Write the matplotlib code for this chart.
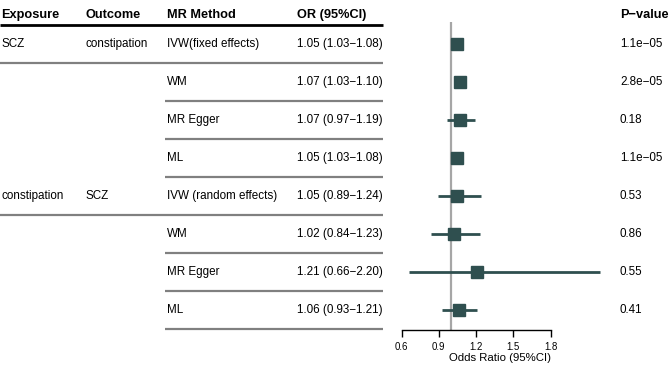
import matplotlib
matplotlib.use("Agg")
import matplotlib.pyplot as plt

plt.rcParams['font.family'] = ['Liberation Sans', 'DejaVu Sans']

exposure = ["SCZ", "", "", "", "constipation", "", "", ""]
outcome = ["constipation", "", "", "", "SCZ", "", "", ""]
method = ["IVW(fixed effects)", "WM", "MR Egger", "ML",
          "IVW (random effects)", "WM", "MR Egger", "ML"]
or_val = [1.05, 1.07, 1.07, 1.05, 1.05, 1.02, 1.21, 1.06]
ci_lo = [1.03, 1.03, 0.97, 1.03, 0.89, 0.84, 0.66, 0.93]
ci_hi = [1.08, 1.10, 1.19, 1.08, 1.24, 1.23, 2.20, 1.21]
pvals = ["1.1e\u221205", "2.8e\u221205", "0.18", "1.1e\u221205",
         "0.53", "0.86", "0.55", "0.41"]
full_sep_after = [0, 4]
xticks = [0.6, 0.9, 1.2, 1.5, 1.8]
headers = ["Exposure", "Outcome", "MR Method", "OR (95%CI)", "P\u2212value"]

W, H = 669, 366
fig = plt.figure(figsize=(W / 100, H / 100), dpi=100)

# table layer in pixel coordinates
axt = fig.add_axes([0, 0, 1, 1])
axt.set_xlim(0, W)
axt.set_ylim(H, 0)
axt.axis('off')

row0, step = 44, 38
col_x = [1, 85, 167, 297, 620]
for x, h in zip(col_x, headers):
    axt.text(x, 15, h, fontsize=9.2, fontweight='bold', va='center', ha='left')
axt.plot([0, 383], [25, 25], color='black', lw=2.0, solid_capstyle='butt')

n = len(method)
for i in range(n):
    y = row0 + step * i
    axt.text(col_x[0], y, exposure[i], fontsize=8.4, va='center')
    axt.text(col_x[1], y, outcome[i], fontsize=8.4, va='center')
    axt.text(col_x[2], y, method[i], fontsize=8.4, va='center')
    axt.text(col_x[3], y, f"{or_val[i]:.2f} ({ci_lo[i]:.2f}\u2212{ci_hi[i]:.2f})",
             fontsize=8.4, va='center')
    axt.text(col_x[4], y, pvals[i], fontsize=8.4, va='center')
    ys = y + step / 2
    x0 = 0 if i in full_sep_after else 165
    axt.plot([x0, 383], [ys, ys], color='#808080', lw=1.6, solid_capstyle='butt')

# forest axes
top_px, bot_px, left_px, right_px = 22, 330, 380, 610
ax = fig.add_axes([left_px / W, (H - bot_px) / H, (right_px - left_px) / W,
                   (bot_px - top_px) / H])
ax.patch.set_alpha(0)
ppu = 149 / 1.2
ax.set_xlim(0.6 - (401.5 - left_px) / ppu, 0.6 + (right_px - 401.5) / ppu)
ax.set_ylim((bot_px - row0) / step, (top_px - row0) / step)
ax.axvline(1.0, color='#A6A6A6', lw=1.6, zorder=1)
for i in range(n):
    ax.plot([ci_lo[i], ci_hi[i]], [i, i], color='#2F4F4F', lw=2.0, zorder=2,
            solid_capstyle='butt')
    ax.plot(or_val[i], i, marker='s', ms=9, color='#2F4F4F', zorder=3)

for s in ['top', 'right', 'left']:
    ax.spines[s].set_visible(False)
ax.spines['bottom'].set_bounds(xticks[0], xticks[-1])
ax.spines['bottom'].set_linewidth(1.0)
ax.set_xticks(xticks)
ax.set_xticklabels([f"{t:.1f}" for t in xticks], fontsize=6.9)
ax.tick_params(axis='x', direction='out', length=5, width=1.0, pad=4)
ax.set_yticks([])
fig.text(500 / W, (H - 358) / H, "Odds Ratio (95%CI)", fontsize=8.2,
         ha='center', va='center')

fig.savefig("out.png", dpi=100)
